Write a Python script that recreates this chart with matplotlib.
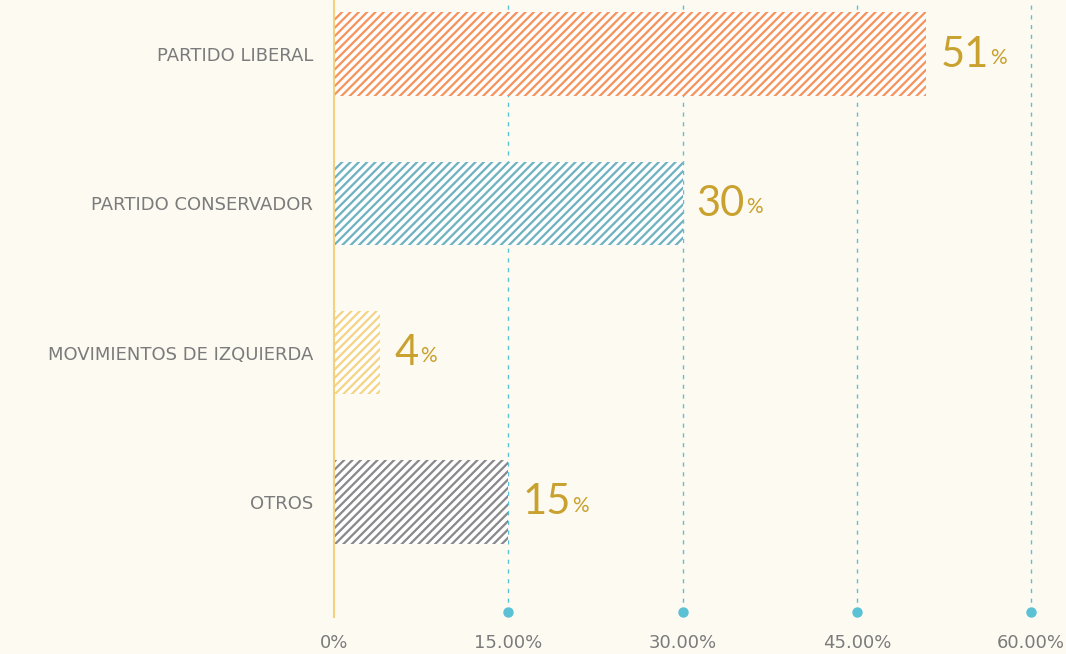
import numpy as np
import matplotlib
matplotlib.use("Agg")
import matplotlib.pyplot as plt

# data
parties = ["PARTIDO LIBERAL", "PARTIDO CONSERVADOR", "MOVIMIENTOS DE IZQUIERDA", "OTROS"]
shares = [51, 30, 4, 15]
colors = ["#F5945C", "#6FB2C0", "#F5D585", "#8A8A8C"]
xticks = [0, 15, 30, 45, 60]
xtick_labels = ["0%", "15.00%", "30.00%", "45.00%", "60.00%"]

bg = "#FDFAF2"
gold = "#C9A12E"
grey_txt = "#7B7B7B"
grid_c = "#5BC2D6"

plt.rcParams["hatch.linewidth"] = 2.6

fig = plt.figure(figsize=(10.66, 6.54), dpi=100, facecolor=bg)
ax = fig.add_axes([334 / 1066, 42 / 654, (1031 - 334) / 1066, 612 / 654])
ax.set_facecolor(bg)

y = np.arange(len(parties))
bars = ax.barh(y, shares, height=0.56, color=colors, edgecolor="white",
               linewidth=0, hatch="////", zorder=3)

ax.set_xlim(0, 60)
ax.set_ylim(3.737, -0.362)

# dashed grid lines with dots at bottom
for t in xticks[1:]:
    ax.axvline(t, color=grid_c, ls=(0, (3, 4)), lw=1, zorder=1, clip_on=False)
    ax.plot([t], [3.737], "o", color=grid_c, ms=6.5, clip_on=False, zorder=4)
ax.plot([0, 0], [3.77, -0.362], color="#F3D27E", lw=1.5, zorder=4, clip_on=False)

for s in ax.spines.values():
    s.set_visible(False)
ax.set_xticks(xticks)
ax.set_xticklabels(xtick_labels, fontsize=13, color=grey_txt, family="DejaVu Sans")
ax.tick_params(axis="x", length=0, pad=16)
ax.set_yticks(y)
ax.set_yticklabels(parties, fontsize=13, color=grey_txt, family="DejaVu Sans")
ax.tick_params(axis="y", length=0, pad=15)

# value labels
for yi, v in zip(y, shares):
    t = ax.annotate(str(v), (v, yi), xytext=(10, -9), textcoords="offset points",
                    va="baseline", ha="left", fontsize=30, color=gold,
                    family="Lato", zorder=5)
    ax.annotate("%", xycoords=t, xy=(1, 0), xytext=(1, 7), textcoords="offset points",
                va="baseline", ha="left", fontsize=15, color=gold,
                family="Lato")

fig.savefig("out.png", dpi=100, facecolor=bg)
